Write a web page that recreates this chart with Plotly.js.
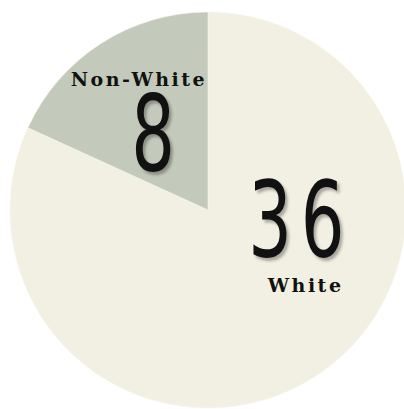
<!DOCTYPE html>
<html>
<head>
<meta charset="utf-8">
<script src="https://cdn.plot.ly/plotly-3.0.1.min.js"></script>
<style>
html,body{margin:0;padding:0;overflow:hidden;background:#fff;}
#chart{width:412px;height:409px;}
</style>
</head>
<body>
<div id="chart"></div>
<script>
const categories = ["White", "Non-White"];
const counts = [36, 8];
const sliceColors = ["#f2f0e2", "#c4cabb"];

const W = 412, H = 409;
// label anchor pixel positions (layout only)
const numPos = [[300, 220], [157, 134]];
const namePos = [[305, 285], [139, 79]];

const annotations = [];
categories.forEach((c, i) => {
  annotations.push({
    text: String(counts[i]),
    x: numPos[i][0] / W, y: 1 - numPos[i][1] / H,
    xref: "paper", yref: "paper", showarrow: false,
    xanchor: "center", yanchor: "middle",
    font: {family: "DejaVu Sans Condensed, DejaVu Sans, sans-serif", size: 106, color: "#111",
           shadow: "3px 3px 3px rgba(0,0,0,0.3)"}
  });
  annotations.push({
    text: "<b>" + c + "</b>",
    x: namePos[i][0] / W, y: 1 - namePos[i][1] / H,
    xref: "paper", yref: "paper", showarrow: false,
    xanchor: "center", yanchor: "middle",
    font: {family: "DejaVu Serif, serif", size: 19, color: "#111"}
  });
});

const data = [{
  type: "pie",
  labels: categories,
  values: counts,
  sort: false,
  direction: "counterclockwise",
  rotation: 0,
  textinfo: "none",
  hoverinfo: "label+value",
  marker: {colors: sliceColors, line: {color: "#f7f6ee", width: 0.6}},
  domain: {x: [9 / W, 407 / W], y: [1 - 408 / H, 1 - 12 / H]},
  showlegend: false
}];

const layout = {
  width: W, height: H,
  margin: {l: 0, r: 0, t: 0, b: 0},
  paper_bgcolor: "#ffffff",
  showlegend: false,
  annotations: annotations
};

Plotly.newPlot("chart", data, layout, {displayModeBar: false, staticPlot: true}).then(gd => {
  const texts = gd.querySelectorAll(".annotation-text");
  texts.forEach((t, k) => {
    if (k % 2 === 0) {
      t.style.letterSpacing = "12px";
      t.style.transformBox = "fill-box";
      t.style.transformOrigin = "center";
      t.style.transform = "scaleX(0.72)";
    } else {
      t.style.letterSpacing = "2.5px";
    }
  });
});
</script>
</body>
</html>
